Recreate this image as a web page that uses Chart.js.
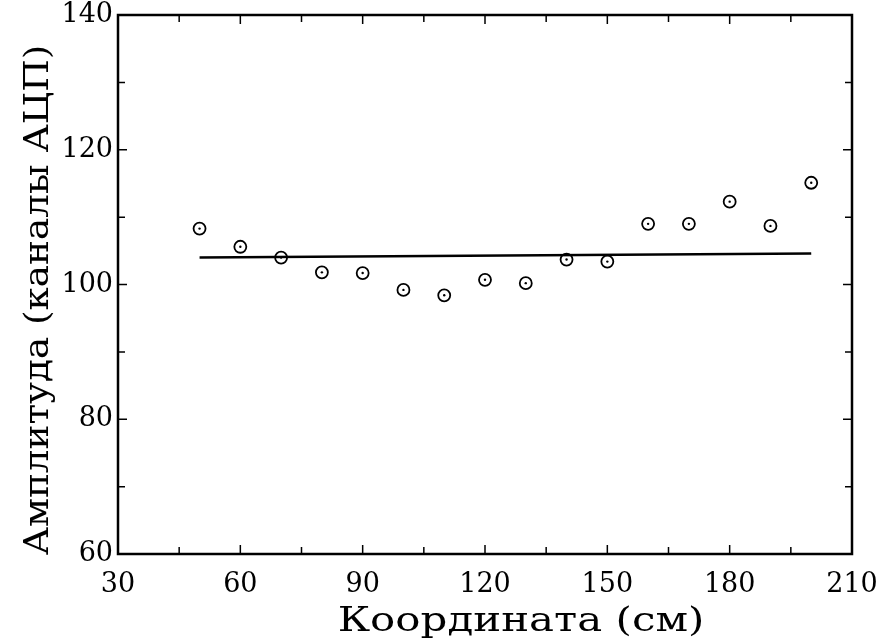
<!DOCTYPE html>
<html>
<head>
<meta charset="utf-8">
<script src="https://cdn.jsdelivr.net/npm/chart.js@4.4.1/dist/chart.umd.min.js"></script>
<style>
  html, body { margin: 0; padding: 0; background: #fff; }
  #wrap { width: 885px; height: 644px; }
</style>
</head>
<body>
<div id="wrap"><canvas id="myChart" width="885" height="644"></canvas></div>
<script>
// data
var coord = [50, 60, 70, 80, 90, 100, 110, 120, 130, 140, 150, 160, 170, 180, 190, 200];
var amplitude = [108.3, 105.6, 104.0, 101.8, 101.7, 99.2, 98.4, 100.7, 100.2, 103.7, 103.4, 109.0, 109.0, 112.3, 108.7, 115.1];
var fitX = [50, 200];
var fitY = [104.0, 104.6];
var xTicks = [30, 60, 90, 120, 150, 180, 210];
var yTicks = [60, 80, 100, 120, 140];
var xTitle = 'Координата (см)';
var yTitle = 'Амплитуда (каналы АЦП)';

var fontFam = '"DejaVu Serif", "Liberation Serif", serif';

var pts = coord.map(function(x, i) { return {x: x, y: amplitude[i]}; });
var fit = fitX.map(function(x, i) { return {x: x, y: fitY[i]}; });

// frame + inward ticks + axis titles
var framePlugin = {
  id: 'frame',
  afterDraw: function(chart) {
    var c = chart.ctx, a = chart.chartArea;
    var xs = chart.scales.x, ys = chart.scales.y;
    c.save();
    c.strokeStyle = '#000';
    c.lineWidth = 2.5;
    c.strokeRect(a.left, a.top, a.right - a.left, a.bottom - a.top);
    c.lineWidth = 1.5;
    c.beginPath();
    for (var v = xTicks[0]; v <= xTicks[xTicks.length - 1]; v += 15) {
      var px = xs.getPixelForValue(v);
      var len = (xTicks.indexOf(v) >= 0) ? 9 : 7;
      c.moveTo(px, a.bottom); c.lineTo(px, a.bottom - len);
      c.moveTo(px, a.top); c.lineTo(px, a.top + len);
    }
    for (var w = yTicks[0]; w <= yTicks[yTicks.length - 1]; w += 10) {
      var py = ys.getPixelForValue(w);
      var l2 = (yTicks.indexOf(w) >= 0) ? 9 : 7;
      c.moveTo(a.left, py); c.lineTo(a.left + l2, py);
      c.moveTo(a.right, py); c.lineTo(a.right - l2, py);
    }
    c.stroke();

    // axis titles (wide serif in the original, so stretch a bit)
    c.fillStyle = '#000';
    c.font = '33px ' + fontFam;
    c.textAlign = 'center';
    c.textBaseline = 'middle';
    c.save();
    c.translate(521, 622);
    c.scale(1.27, 1);
    c.fillText(xTitle, 0, 0);
    c.restore();
    c.translate(39, 300);
    c.rotate(-Math.PI / 2);
    c.scale(1.13, 1);
    c.fillText(yTitle, 0, 0);
    c.restore();
  }
};

const ctx = document.getElementById('myChart');

new Chart(ctx, {
  type: 'scatter',
  data: {
    datasets: [{
      label: 'fit',
      type: 'line',
      data: fit,
      borderColor: '#000',
      borderWidth: 2.5,
      pointRadius: 0,
      fill: false
    }, {
      label: 'points',
      data: pts,
      pointStyle: 'circle',
      pointRadius: 6,
      pointBorderWidth: 1.8,
      pointBorderColor: '#000',
      pointBackgroundColor: 'rgba(255,255,255,0)'
    }, {
      label: 'dots',
      data: pts,
      pointRadius: 1.2,
      pointBorderWidth: 0,
      pointBackgroundColor: '#000'
    }]
  },
  plugins: [framePlugin],
  options: {
    responsive: false,
    animation: false,
    layout: { padding: { top: 15, right: 33, left: 0, bottom: 0 } },
    plugins: {
      legend: { display: false },
      tooltip: { enabled: false }
    },
    scales: {
      x: {
        type: 'linear',
        min: 30,
        max: 210,
        afterFit: function(s) { s.height = 90; s.paddingLeft = 0; s.paddingRight = 0; },
        grid: { display: false, drawTicks: false },
        border: { display: false },
        ticks: {
          stepSize: 30,
          padding: 15,
          color: '#000',
          font: { family: fontFam, size: 27 },
          maxRotation: 0
        }
      },
      y: {
        type: 'linear',
        min: 60,
        max: 140,
        afterFit: function(s) { s.width = 118; s.paddingTop = 0; s.paddingBottom = 0; },
        grid: { display: false, drawTicks: false },
        border: { display: false },
        ticks: {
          stepSize: 20,
          padding: 5,
          color: '#000',
          font: { family: fontFam, size: 27 }
        }
      }
    }
  }
});
</script>
</body>
</html>
